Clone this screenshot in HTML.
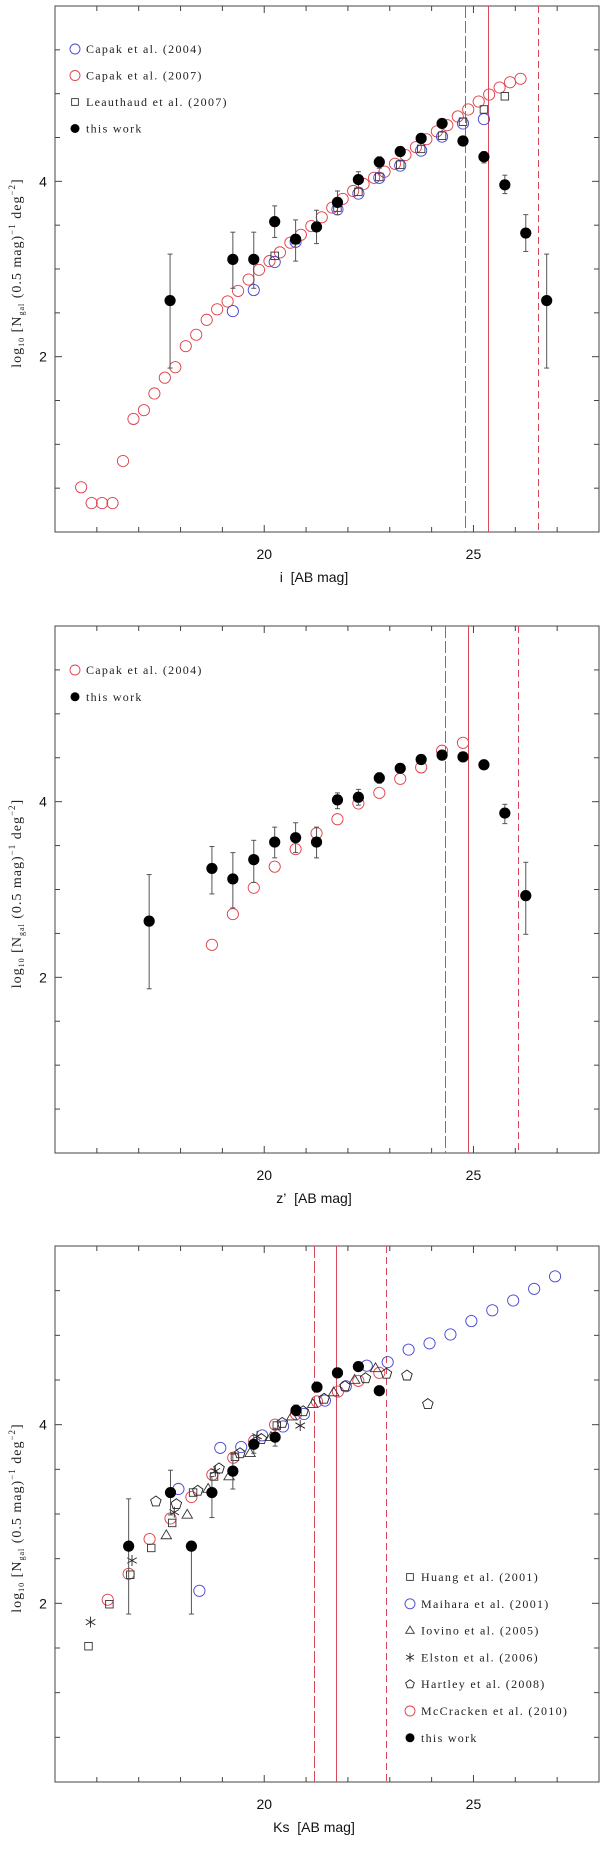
<!DOCTYPE html>
<html><head><meta charset="utf-8"><style>
html,body{margin:0;padding:0;background:#fff;}
svg{display:block;}
</style></head><body>
<svg id="chart" width="600" height="1851" viewBox="0 0 600 1851" xmlns="http://www.w3.org/2000/svg"></svg>
<script>
// ---------- Panel 1 (i band) data ----------
const p1CapakB_x = [19.25,19.75,20.25,20.75,21.75,22.25,22.75,23.25,23.75,24.25,24.75,25.25];
const p1CapakB_y = [2.52,2.76,3.08,3.31,3.68,3.86,4.04,4.18,4.35,4.51,4.66,4.71];
const p1CapakR_x = [15.625,15.875,16.125,16.375,16.625,16.875,17.125,17.375,17.625,17.875,18.125,18.375,18.625,18.875,19.125,19.375,19.625,19.875,20.125,20.375,20.625,20.875,21.125,21.375,21.625,21.875,22.125,22.375,22.625,22.875,23.125,23.375,23.625,23.875,24.125,24.375,24.625,24.875,25.125,25.375,25.625,25.875,26.125];
const p1CapakR_y = [0.51,0.33,0.33,0.33,0.81,1.29,1.39,1.58,1.76,1.88,2.12,2.25,2.42,2.54,2.63,2.75,2.88,2.99,3.09,3.19,3.30,3.39,3.49,3.59,3.70,3.80,3.89,3.97,4.04,4.11,4.20,4.30,4.39,4.48,4.57,4.64,4.74,4.82,4.91,4.99,5.07,5.13,5.17];
const p1Leau_x = [20.25,20.75,21.75,22.25,22.75,23.25,23.75,24.25,24.75,25.25,25.75];
const p1Leau_y = [3.15,3.33,3.70,3.88,4.05,4.19,4.37,4.52,4.68,4.82,4.97];
const p1Work_x = [17.75,19.25,19.75,20.25,20.75,21.25,21.75,22.25,22.75,23.25,23.75,24.25,24.75,25.25,25.75,26.25,26.75];
const p1Work_y = [2.64,3.11,3.11,3.54,3.34,3.48,3.76,4.02,4.22,4.34,4.49,4.66,4.46,4.28,3.96,3.41,2.64];
const p1Work_hi = [3.17,3.42,3.42,3.72,3.56,3.67,3.89,4.11,4.28,4.34,4.49,4.66,4.46,4.34,4.07,3.62,3.17];
const p1Work_lo = [1.87,2.78,2.78,3.36,3.09,3.29,3.62,3.93,4.15,4.34,4.49,4.66,4.46,4.21,3.86,3.20,1.87];
const p1Lines = [24.79,25.34,26.54];

// ---------- Panel 2 (z' band) data ----------
const p2Capak_x = [18.75,19.25,19.75,20.25,20.75,21.25,21.75,22.25,22.75,23.25,23.75,24.25,24.75];
const p2Capak_y = [2.37,2.72,3.02,3.26,3.46,3.64,3.80,3.98,4.10,4.26,4.39,4.58,4.67];
const p2Work_x = [17.25,18.75,19.25,19.75,20.25,20.75,21.25,21.75,22.25,22.75,23.25,23.75,24.25,24.75,25.25,25.75,26.25];
const p2Work_y = [2.64,3.24,3.12,3.34,3.54,3.59,3.54,4.02,4.05,4.27,4.38,4.48,4.53,4.51,4.42,3.87,2.93];
const p2Work_hi = [3.17,3.49,3.42,3.56,3.71,3.76,3.71,4.10,4.14,4.33,4.38,4.48,4.53,4.51,4.42,3.97,3.31];
const p2Work_lo = [1.87,2.95,2.79,3.08,3.36,3.42,3.36,3.92,3.96,4.21,4.38,4.48,4.53,4.51,4.42,3.75,2.49];
const p2Lines = [24.32,24.86,26.06];

// ---------- Panel 3 (Ks band) data ----------
const p3Huang_x = [15.8,16.3,16.8,17.3,17.8,18.3,18.8,19.3,20.3];
const p3Huang_y = [1.52,1.99,2.32,2.62,2.90,3.24,3.42,3.64,3.99];
const p3Maih_x = [17.95,18.45,18.95,19.45,19.95,20.45,20.95,21.45,21.95,22.45,22.95,23.45,23.95,24.45,24.95,25.45,25.95,26.45,26.95];
const p3Maih_y = [3.28,2.14,3.74,3.75,3.88,3.98,4.12,4.27,4.43,4.66,4.70,4.84,4.91,5.01,5.16,5.28,5.39,5.52,5.66];
const p3Iov_x = [17.66,18.16,18.66,19.16,19.66,20.16,20.66,21.16,21.66,22.16,22.66];
const p3Iov_y = [2.76,2.99,3.28,3.42,3.68,3.86,4.09,4.23,4.36,4.50,4.63];
const p3Elst_x = [15.85,16.84,17.85,18.83,19.83,20.86];
const p3Elst_y = [1.79,2.48,3.02,3.48,3.87,3.99];
const p3Hart_x = [17.41,17.90,18.41,18.92,19.42,19.93,20.43,20.93,21.43,21.93,22.42,22.92,23.41,23.91];
const p3Hart_y = [3.14,3.11,3.26,3.51,3.68,3.84,4.02,4.15,4.29,4.43,4.52,4.57,4.55,4.23];
const p3McC_x = [16.26,16.76,17.26,17.76,18.26,18.76,19.26,19.76,20.26,20.76,21.26,21.76,22.25,22.75];
const p3McC_y = [2.04,2.33,2.72,2.95,3.19,3.44,3.63,3.82,4.00,4.12,4.26,4.37,4.49,4.58];
const p3Work_x = [16.76,17.76,18.26,18.75,19.25,19.75,20.26,20.76,21.26,21.75,22.25,22.75];
const p3Work_y = [2.64,3.24,2.64,3.24,3.48,3.78,3.86,4.16,4.42,4.58,4.65,4.38];
const p3Work_hi = [3.17,3.49,2.64,3.42,3.67,3.88,3.96,4.22,4.42,4.58,4.65,4.38];
const p3Work_lo = [1.88,2.99,1.88,2.96,3.28,3.68,3.76,4.10,4.42,4.58,4.65,4.38];
const p3Lines = [21.18,21.72,22.91];

const xTicks = [20,25];
const yTicks = [2,4];

const NS = 'http://www.w3.org/2000/svg';
const svg = document.getElementById('chart');
const RED = '#e0404a', BLUE = '#4646d2', LINE = '#d9485a';

function mk(tag, attrs, parent){
  const e = document.createElementNS(NS, tag);
  for (const k in attrs) e.setAttribute(k, attrs[k]);
  (parent||svg).appendChild(e);
  return e;
}

function panel(top, bottom, name){
  const L = 55, R = 599;
  const g = mk('g', {});
  
  
  const sx = v => L + (v - 15) / 13 * (R - L);
  const sy = v => bottom - v / 6 * (bottom - top);
  return {g, sx, sy, L, R, top, bottom};
}

function axes(P, xlabel){
  const {g, sx, sy, L, R, top, bottom} = P;
  const fr = mk('rect', {x:L, y:top, width:R-L, height:bottom-top, fill:'none', stroke:'#444', 'stroke-width':1}, g);
  
  
  for (let m = 16; m <= 27; m++){
    const x = sx(m), len = (m % 5 === 0) ? 7 : 5;
    mk('line', {x1:x, y1:bottom, x2:x, y2:bottom-len, stroke:'#444'}, g);
    mk('line', {x1:x, y1:top, x2:x, y2:top+len, stroke:'#444'}, g);
  }
  for (let k = 1; k < 12; k++){
    const v = k * 0.5, y = sy(v), len = (v % 2 === 0) ? 7 : 5;
    mk('line', {x1:L, y1:y, x2:L+len, y2:y, stroke:'#444'}, g);
    mk('line', {x1:R, y1:y, x2:R-len, y2:y, stroke:'#444'}, g);
  }
  xTicks.forEach(t => {
    const tl = mk('text', {x:sx(t), y:bottom+27, 'text-anchor':'middle', 'font-family':'Liberation Sans, sans-serif', 'font-size':14, fill:'#111'}, g);
    tl.textContent = t;
    
    
  });
  yTicks.forEach(t => {
    const tl = mk('text', {x:43, y:sy(t)+5, 'text-anchor':'middle', 'font-family':'Liberation Sans, sans-serif', 'font-size':14, fill:'#111'}, g);
    tl.textContent = t;
    
    
  });
  const xl = mk('text', {x:314, y:bottom+50, 'text-anchor':'middle', 'font-family':'Liberation Sans, sans-serif', 'font-size':14, fill:'#111'}, g);
  xl.textContent = xlabel;
  
  
  const cy = (top + bottom) / 2 + 4;
  const yl = mk('text', {x:0, y:0, transform:`translate(21,${cy}) rotate(-90)`, 'text-anchor':'middle', 'font-family':'Liberation Serif, serif', 'font-size':14, fill:'#222', 'letter-spacing':'1'}, g);
  yl.innerHTML = 'log<tspan font-size="8" dy="3">10</tspan><tspan dy="-3"> [N</tspan><tspan font-size="8" dy="3">gal</tspan><tspan dy="-3"> (0.5 mag)</tspan><tspan font-size="9" dy="-6">−1</tspan><tspan dy="6"> deg</tspan><tspan font-size="9" dy="-6">−2</tspan><tspan dy="6">]</tspan>';
  
  
}

function vlines(P, xs){
  const dashes = ['12,3', null, '7,4'];
  xs.forEach((v, i) => {
    const x = Math.round(P.sx(v)) + 0.5;
    const a = {x1:x, y1:P.top, x2:x, y2:P.bottom, stroke:LINE, 'stroke-width':1};
    if (dashes[i]) a['stroke-dasharray'] = dashes[i];
    const l = mk('line', a, P.g);
    
    
  });
}

function marker(parent, type, x, y, s, color){
  let e;
  if (type === 'circle') e = mk('circle', {cx:x, cy:y, r:s, fill:'none', stroke:color, 'stroke-width':0.9}, parent);
  else if (type === 'dot') e = mk('circle', {cx:x, cy:y, r:s, fill:'#000'}, parent);
  else if (type === 'square') e = mk('rect', {x:x-s*0.75, y:y-s*0.75, width:s*1.5, height:s*1.5, fill:'none', stroke:'#333', 'stroke-width':0.9}, parent);
  else if (type === 'tri') e = mk('polygon', {points:`${x},${y-s} ${x-s*0.95},${y+s*0.6} ${x+s*0.95},${y+s*0.6}`, fill:'none', stroke:'#333', 'stroke-width':0.9}, parent);
  else if (type === 'pent'){
    let pts = [];
    for (let k = 0; k < 5; k++){ const a = -Math.PI/2 + k*2*Math.PI/5; pts.push((x+s*Math.cos(a)).toFixed(1)+','+(y+s*Math.sin(a)).toFixed(1)); }
    e = mk('polygon', {points:pts.join(' '), fill:'none', stroke:'#222', 'stroke-width':0.9}, parent);
  } else if (type === 'star'){
    e = mk('g', {stroke:'#222', 'stroke-width':0.9}, parent);
    for (let k = 0; k < 3; k++){
      const a = Math.PI/2 + k*Math.PI/3;
      const dx = s*Math.cos(a), dy = s*Math.sin(a);
      mk('line', {x1:x-dx, y1:y-dy, x2:x+dx, y2:y+dy}, e);
    }
  }
  return e;
}

function series(P, xs, ys, type, s, color, name){
  const g = mk('g', {}, P.g);
  
  
  xs.forEach((v, i) => {
    const m = marker(g, type, P.sx(v), P.sy(ys[i]), s, color);
    
    
  });
}

function errs(P, xs, hi, lo, name){
  const g = mk('g', {stroke:'#555', 'stroke-width':1}, P.g);
  
  
  xs.forEach((v, i) => {
    if (hi[i] - lo[i] < 0.01) return;
    const x = P.sx(v);
    mk('line', {x1:x, y1:P.sy(hi[i]), x2:x, y2:P.sy(lo[i])}, g);
    mk('line', {x1:x-2.5, y1:P.sy(hi[i]), x2:x+2.5, y2:P.sy(hi[i])}, g);
    mk('line', {x1:x-2.5, y1:P.sy(lo[i]), x2:x+2.5, y2:P.sy(lo[i])}, g);
  });
}

function legend(P, x, y0, dy, items){
  const g = mk('g', {}, P.g);
  
  
  items.forEach((it, i) => {
    const y = y0 + i*dy;
    const e = mk('g', {}, g);
    
    
    marker(e, it[0], x, y, it[0]==='circle'?5:4.5, it[1]);
    const t = mk('text', {x:x+11, y:y+4, 'font-family':'Liberation Serif, serif', 'font-size':12, 'letter-spacing':'1.3', fill:'#222'}, e);
    t.textContent = it[2];
  });
}

// Panel 1
const P1 = panel(6, 532, 'panel-i-band');
axes(P1, 'i\u00a0\u00a0[AB mag]');
vlines(P1, p1Lines);
series(P1, p1CapakR_x, p1CapakR_y, 'circle', 5.6, RED, 'capak-2007');
series(P1, p1CapakB_x, p1CapakB_y, 'circle', 5.6, BLUE, 'capak-2004');
series(P1, p1Leau_x, p1Leau_y, 'square', 5, '#333', 'leauthaud-2007');
errs(P1, p1Work_x, p1Work_hi, p1Work_lo, 'this-work-errors');
series(P1, p1Work_x, p1Work_y, 'dot', 5.6, '#000', 'this-work');
legend(P1, 75, 49, 26.5, [['circle',BLUE,'Capak et al. (2004)'],['circle',RED,'Capak et al. (2007)'],['square','#333','Leauthaud et al. (2007)'],['dot','#000','this work']]);

// Panel 2
const P2 = panel(626, 1153, 'panel-z-band');
axes(P2, 'z’\u00a0\u00a0[AB mag]');
vlines(P2, p2Lines);
series(P2, p2Capak_x, p2Capak_y, 'circle', 5.6, RED, 'capak-2004');
errs(P2, p2Work_x, p2Work_hi, p2Work_lo, 'this-work-errors');
series(P2, p2Work_x, p2Work_y, 'dot', 5.6, '#000', 'this-work');
legend(P2, 75, 670, 26.8, [['circle',RED,'Capak et al. (2004)'],['dot','#000','this work']]);

// Panel 3
const P3 = panel(1246, 1782, 'panel-ks-band');
axes(P3, 'Ks\u00a0\u00a0[AB mag]');
vlines(P3, p3Lines);
series(P3, p3Maih_x, p3Maih_y, 'circle', 5.6, BLUE, 'maihara-2001');
series(P3, p3McC_x, p3McC_y, 'circle', 5.6, RED, 'mccracken-2010');
series(P3, p3Huang_x, p3Huang_y, 'square', 5, '#333', 'huang-2001');
series(P3, p3Iov_x, p3Iov_y, 'tri', 5.5, '#333', 'iovino-2005');
series(P3, p3Elst_x, p3Elst_y, 'star', 5.5, '#222', 'elston-2006');
series(P3, p3Hart_x, p3Hart_y, 'pent', 5.5, '#222', 'hartley-2008');
errs(P3, p3Work_x, p3Work_hi, p3Work_lo, 'this-work-errors');
series(P3, p3Work_x, p3Work_y, 'dot', 5.6, '#000', 'this-work');
legend(P3, 410, 1577, 26.8, [['square','#333','Huang et al. (2001)'],['circle',BLUE,'Maihara et al. (2001)'],['tri','#333','Iovino et al. (2005)'],['star','#222','Elston et al. (2006)'],['pent','#222','Hartley et al. (2008)'],['circle',RED,'McCracken et al. (2010)'],['dot','#000','this work']]);
</script>
</body></html>
